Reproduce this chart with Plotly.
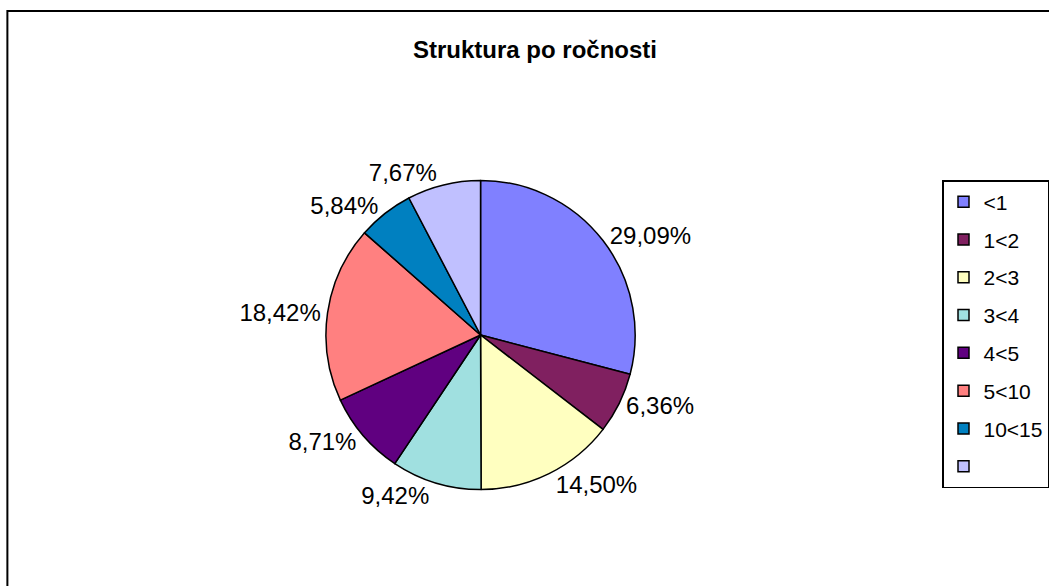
import plotly.graph_objects as go

categories = ["<1", "1<2", "2<3", "3<4", "4<5", "5<10", "10<15", " "]
values = [29.09, 6.36, 14.50, 9.42, 8.71, 18.42, 5.84, 7.67]
colors = ["#8080FF", "#802060", "#FFFFC0", "#A0E0E0", "#600080", "#FF8080", "#0080C0", "#C0C0FF"]
title_text = "Struktura po ročnosti"

W, H = 1049, 586
FONT = "Liberation Sans, Arial, sans-serif"

labels_text = [f"{v:.2f}%".replace(".", ",") for v in values]

cx, cy, r = 488, 335, 157

fig = go.Figure()
fig.add_trace(go.Pie(
    labels=categories,
    values=values,
    text=labels_text,
    textinfo="text",
    textposition="outside",
    sort=False,
    direction="clockwise",
    rotation=0,
    marker=dict(colors=colors, line=dict(color="black", width=1.5)),
    textfont=dict(family=FONT, size=24, color="black"),
    outsidetextfont=dict(family=FONT, size=24, color="black"),
    domain=dict(x=[(cx - r) / W, (cx + r) / W], y=[1 - (cy + r) / H, 1 - (cy - r) / H]),
    showlegend=False,
    hoverinfo="label+text",
))

for cat, col in zip(categories, colors):
    fig.add_trace(go.Scatter(
        x=[None], y=[None], mode="markers", name=cat,
        legendgroup=cat,
        marker=dict(symbol="square", size=11, color=col, line=dict(color="black", width=1.5)),
        showlegend=True,
    ))

fig.update_layout(
    width=W, height=H,
    margin=dict(l=0, r=0, t=0, b=0),
    paper_bgcolor="white", plot_bgcolor="white",
    xaxis=dict(visible=False), yaxis=dict(visible=False),
    title=dict(text="<b>" + title_text + "</b>", x=535 / W, xanchor="center",
               y=1 - 50 / H, yanchor="middle",
               font=dict(family=FONT, size=24, color="black")),
    legend=dict(
        x=957 / W, xanchor="left", y=1 - 180 / H, yanchor="top",
        bordercolor="black", borderwidth=1.5, bgcolor="white",
        font=dict(family=FONT, size=21, color="black"),
        tracegroupgap=7.5, traceorder="grouped",
    ),
    shapes=[dict(type="rect", xref="paper", yref="paper",
                 x0=7.5 / W, x1=1.05, y0=-0.05, y1=1 - 11 / H,
                 line=dict(color="black", width=2), fillcolor="rgba(0,0,0,0)")],
)

fig.write_html("out.html", config={"displayModeBar": False},
               post_script="document.body.style.margin='0';document.body.style.overflow='hidden';")
